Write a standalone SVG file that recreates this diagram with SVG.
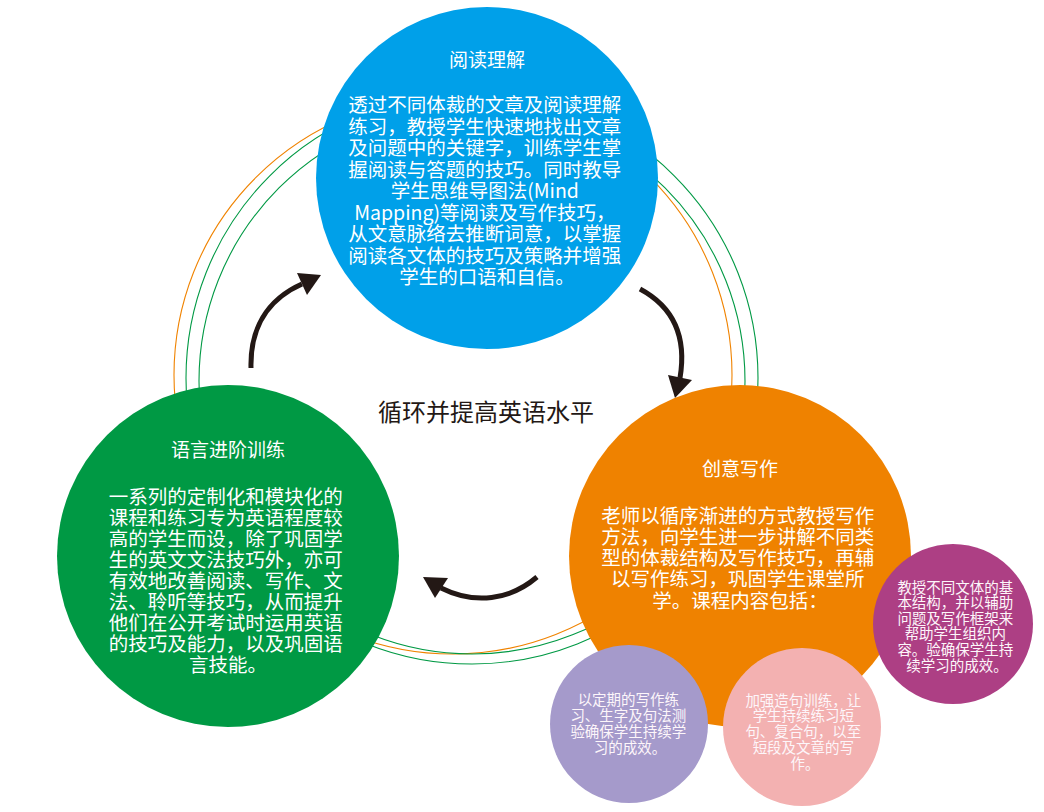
<svg xmlns="http://www.w3.org/2000/svg" width="1044" height="812" viewBox="0 0 1044 812">
<style>
  .ring { fill: none; stroke-width: 1.1; }
  .t { font-family: "Noto Sans CJK SC", "Noto Sans", sans-serif; fill: #ffffff; text-anchor: middle; }
  .title { font-size: 19px; }
  .body { font-size: 19.5px; }
  .small { font-size: 14.5px; fill: #fdf6fa; }
  .arrow { fill: none; stroke: #231815; stroke-width: 5; stroke-linecap: butt; }
  .head { fill: #231815; }
  .center { font-family: "Noto Sans CJK SC", "Noto Sans", sans-serif; font-size: 24px; fill: #231815; text-anchor: middle; }
</style>
<rect width="1044" height="812" fill="#ffffff"/>
<g id="connectors">
  <circle class="ring" cx="453" cy="375" r="279" stroke="#f08300"/>
  <circle class="ring" cx="472" cy="378" r="286" stroke="#009944"/>
  <circle class="ring" cx="472" cy="381" r="273" stroke="#009944"/>
  <path class="arrow" d="M251,368 C250,330 266,300 302,284"/>
  <polygon class="head" points="297,273 321,275 307,295"/>
  <path class="arrow" d="M640,289 C668,304 688,330 680,378"/>
  <polygon class="head" points="668,375 692,380 675,398"/>
  <path class="arrow" d="M537,577 C510,600 475,605 441,588"/>
  <polygon class="head" points="423,577 448,578 435,598"/>
</g>
<g id="node-reading">
  <circle cx="487" cy="178" r="171" fill="#00a0e9"/>
  <text class="t title" x="487" y="67">阅读理解</text>
  <text class="t body">
    <tspan x="487" y="112">透过不同体裁的文章及阅读理解</tspan>
    <tspan x="487" y="133.5">练习，教授学生快速地找出文章</tspan>
    <tspan x="487" y="155">及问题中的关键字，训练学生掌</tspan>
    <tspan x="487" y="176.5">握阅读与答题的技巧。同时教导</tspan>
    <tspan x="487" y="198">学生思维导图法(Mind</tspan>
    <tspan x="487" y="219.5">Mapping)等阅读及写作技巧，</tspan>
    <tspan x="487" y="241">从文意脉络去推断词意，以掌握</tspan>
    <tspan x="487" y="262.5">阅读各文体的技巧及策略并增强</tspan>
    <tspan x="487" y="284">学生的口语和自信。</tspan>
  </text>
</g>
<g id="node-language">
  <circle cx="228" cy="556" r="171" fill="#009944"/>
  <text class="t title" x="228" y="457">语言进阶训练</text>
  <text class="t body">
    <tspan x="228" y="504">一系列的定制化和模块化的</tspan>
    <tspan x="228" y="525">课程和练习专为英语程度较</tspan>
    <tspan x="228" y="546">高的学生而设，除了巩固学</tspan>
    <tspan x="228" y="567">生的英文文法技巧外，亦可</tspan>
    <tspan x="228" y="588">有效地改善阅读、写作、文</tspan>
    <tspan x="228" y="609">法、聆听等技巧，从而提升</tspan>
    <tspan x="228" y="630">他们在公开考试时运用英语</tspan>
    <tspan x="228" y="651">的技巧及能力，以及巩固语</tspan>
    <tspan x="228" y="672">言技能。</tspan>
  </text>
</g>
<g id="node-writing">
  <circle cx="740" cy="556" r="171" fill="#ef8200"/>
  <text class="t title" x="740" y="476">创意写作</text>
  <text class="t body">
    <tspan x="740" y="522.5">老师以循序渐进的方式教授写作</tspan>
    <tspan x="740" y="543.8">方法，向学生进一步讲解不同类</tspan>
    <tspan x="740" y="565">型的体裁结构及写作技巧，再辅</tspan>
    <tspan x="740" y="586.3">以写作练习，巩固学生课堂所</tspan>
    <tspan x="740" y="607.5">学。课程内容包括：</tspan>
  </text>
</g>
<g id="node-structure">
  <circle cx="953" cy="624" r="80" fill="#ad3f84"/>
  <text class="t small">
    <tspan x="957" y="592.5">教授不同文体的基</tspan>
    <tspan x="957" y="608.1">本结构，并以辅助</tspan>
    <tspan x="957" y="623.7">问题及写作框架来</tspan>
    <tspan x="957" y="639.3">帮助学生组织内</tspan>
    <tspan x="957" y="654.9">容。验确保学生持</tspan>
    <tspan x="957" y="670.5">续学习的成效。</tspan>
  </text>
</g>
<g id="node-practice">
  <circle cx="629" cy="724" r="79" fill="#a59acb"/>
  <text class="t small">
    <tspan x="630" y="704.5">以定期的写作练</tspan>
    <tspan x="630" y="720.5">习、生字及句法测</tspan>
    <tspan x="630" y="736.5">验确保学生持续学</tspan>
    <tspan x="630" y="752.5">习的成效。</tspan>
  </text>
</g>
<g id="node-sentence">
  <circle cx="802" cy="727" r="79" fill="#f3b1b1"/>
  <text class="t small">
    <tspan x="805" y="705.5">加强造句训练，让</tspan>
    <tspan x="805" y="721.3">学生持续练习短</tspan>
    <tspan x="805" y="737.1">句、复合句，以至</tspan>
    <tspan x="805" y="752.9">短段及文章的写</tspan>
    <tspan x="805" y="768.7">作。</tspan>
  </text>
</g>
<g id="label-center">
  <text class="center" x="486" y="421">循环并提高英语水平</text>
</g>
</svg>
